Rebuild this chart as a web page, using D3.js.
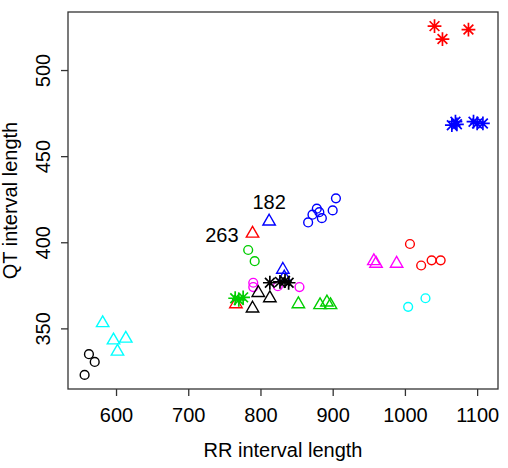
<!DOCTYPE html>
<html>
<head>
<meta charset="utf-8">
<script src="https://cdn.jsdelivr.net/npm/d3@7"></script>
<style>
  body { margin: 0; background: #fff; }
  svg { font-family: "Liberation Sans", Arial, sans-serif; }
</style>
</head>
<body>
<svg id="chart"></svg>
<script>
// RR / QT readings per group
const rrRedStar = [1041, 1052, 1088];
const qtRedStar = [525.5, 518, 523.5];
const rrBlueStar = [1065, 1072, 1070, 1095, 1100, 1108];
const qtBlueStar = [468, 468.5, 470, 470, 469, 469];
const rrBlueCircle = [866, 872, 878, 881.5, 885, 900, 904.5];
const qtBlueCircle = [411.5, 416, 419.5, 417.5, 414, 418.5, 425.5];
const rrBlueTri = [812, 831, 833];
const qtBlueTri = [412.5, 384.5, 380];
const rrRedTri = [789, 766];
const qtRedTri = [405.5, 364.5];
const rrGreenCircle = [783, 792];
const qtGreenCircle = [395.5, 389];
const rrMagentaCircle = [790, 790, 824, 854];
const qtMagentaCircle = [376.5, 374, 374.5, 374];
const rrBlackStar = [813, 827, 834, 839];
const qtBlackStar = [376.5, 377, 377.5, 376.5];
const rrBlackTri = [797, 813, 789];
const qtBlackTri = [371, 368, 362];
const rrGreenTri = [852.5, 882.5, 892, 897];
const qtGreenTri = [364.5, 364, 365.5, 364];
const rrGreenStar = [765, 770, 776];
const qtGreenStar = [367.5, 366.5, 368];
const rrCyanTri = [581.5, 596.5, 613.5, 602];
const qtCyanTri = [353.5, 343.5, 344.5, 337];
const rrBlackCircle = [562.5, 570.5, 556.5];
const qtBlackCircle = [335, 330.5, 323];
const rrMagentaTri = [957, 960, 988.5];
const qtMagentaTri = [389.5, 388, 388];
const rrRedCircle = [1007, 1022.5, 1037, 1049.5];
const qtRedCircle = [399, 386.5, 389.5, 389.5];
const rrCyanCircle = [1004.5, 1028.5];
const qtCyanCircle = [362.5, 367.5];

const xTicks = [600, 700, 800, 900, 1000, 1100];
const yTicks = [350, 400, 450, 500];
const labelText = ["182", "263"];
const labelRR = [812, 789];
const labelQT = [412.5, 405.5];

const series = [
  { rr: rrBlackCircle, qt: qtBlackCircle, color: "#000000", shape: "circle" },
  { rr: rrCyanTri, qt: qtCyanTri, color: "#00FFFF", shape: "triangle" },
  { rr: rrGreenCircle, qt: qtGreenCircle, color: "#00CD00", shape: "circle" },
  { rr: rrRedTri, qt: qtRedTri, color: "#FF0000", shape: "triangle" },
  { rr: rrBlueTri, qt: qtBlueTri, color: "#0000FF", shape: "triangle" },
  { rr: rrMagentaCircle, qt: qtMagentaCircle, color: "#FF00FF", shape: "circle" },
  { rr: rrBlackTri, qt: qtBlackTri, color: "#000000", shape: "triangle" },
  { rr: rrGreenTri, qt: qtGreenTri, color: "#00CD00", shape: "triangle" },
  { rr: rrGreenStar, qt: qtGreenStar, color: "#00CD00", shape: "star" },
  { rr: rrBlackStar, qt: qtBlackStar, color: "#000000", shape: "star" },
  { rr: rrBlueCircle, qt: qtBlueCircle, color: "#0000FF", shape: "circle" },
  { rr: rrMagentaTri, qt: qtMagentaTri, color: "#FF00FF", shape: "triangle" },
  { rr: rrRedCircle, qt: qtRedCircle, color: "#FF0000", shape: "circle" },
  { rr: rrCyanCircle, qt: qtCyanCircle, color: "#00FFFF", shape: "circle" },
  { rr: rrRedStar, qt: qtRedStar, color: "#FF0000", shape: "star" },
  { rr: rrBlueStar, qt: qtBlueStar, color: "#0000FF", shape: "star" }
];

const w = 508;
const h = 468;
const padL = 68, padR = 498, padT = 12, padB = 389;

const svg = d3.select("#chart").attr("width", w).attr("height", h);

const xScale = d3.scaleLinear().domain([533.5, 1128.9]).range([padL, padR]);
const yScale = d3.scaleLinear().domain([314.8, 533.7]).range([padB, padT]);

// R-style star (pch 8): plus and cross together
const starType = {
  draw(ctx, size) {
    const r = Math.sqrt(size) / 2;
    const d = r * Math.SQRT1_2;
    ctx.moveTo(-r, 0); ctx.lineTo(r, 0);
    ctx.moveTo(0, -r); ctx.lineTo(0, r);
    ctx.moveTo(-d, -d); ctx.lineTo(d, d);
    ctx.moveTo(-d, d); ctx.lineTo(d, -d);
  }
};
// open triangle, point up, centred like R pch 2
const triType = {
  draw(ctx, size) {
    const s = Math.sqrt(size);
    const hh = s * Math.sqrt(3) / 2;
    ctx.moveTo(0, -hh * 0.6);
    ctx.lineTo(s / 2, hh * 0.4);
    ctx.lineTo(-s / 2, hh * 0.4);
    ctx.closePath();
  }
};

const symbolFor = {
  circle: d3.symbol().type(d3.symbolCircle).size(Math.PI * 4.4 * 4.4),
  triangle: d3.symbol().type(triType).size(155),
  star: d3.symbol().type(starType).size(190)
};

// points
series.forEach((s) => {
  const pts = s.rr.map((v, i) => ({ rr: v, qt: s.qt[i] }));
  svg.append("g")
    .selectAll("path")
    .data(pts)
    .enter()
    .append("path")
    .attr("transform", (d) => "translate(" + xScale(d.rr) + "," + yScale(d.qt) + ")")
    .attr("d", symbolFor[s.shape]())
    .attr("fill", "none")
    .attr("stroke", s.color)
    .attr("stroke-width", s.shape === "star" ? 1.7 : 1.4);
});

// point labels: first above the point, second to the left
svg.append("text")
  .attr("x", xScale(labelRR[0]))
  .attr("y", yScale(labelQT[0]) - 12)
  .attr("text-anchor", "middle")
  .attr("font-size", 20)
  .text(labelText[0]);
svg.append("text")
  .attr("x", xScale(labelRR[1]) - 14)
  .attr("y", yScale(labelQT[1]) + 9)
  .attr("text-anchor", "end")
  .attr("font-size", 20)
  .text(labelText[1]);

// box
svg.append("rect")
  .attr("x", padL)
  .attr("y", padT)
  .attr("width", padR - padL)
  .attr("height", padB - padT)
  .attr("fill", "none")
  .attr("stroke", "#333")
  .attr("stroke-width", 1.3);

// x axis
const gx = svg.append("g")
  .attr("transform", "translate(0," + padB + ")")
  .call(d3.axisBottom(xScale).tickValues(xTicks).tickSize(7).tickPadding(12).tickFormat(d3.format("d")));
gx.select(".domain").remove();
gx.selectAll("line").attr("stroke", "#333").attr("stroke-width", 1.3);
gx.selectAll("text").attr("font-size", 20).attr("font-family", null).attr("fill", "#000");

// y axis with rotated labels
const gy = svg.append("g")
  .attr("transform", "translate(" + padL + ",0)")
  .call(d3.axisLeft(yScale).tickValues(yTicks).tickSize(7));
gy.select(".domain").remove();
gy.selectAll("line").attr("stroke", "#333").attr("stroke-width", 1.3);
gy.selectAll("text")
  .attr("x", null)
  .attr("dy", "0.35em")
  .attr("transform", "translate(-25.5,0) rotate(-90)")
  .attr("text-anchor", "middle")
  .attr("font-size", 20)
  .attr("font-family", null)
  .attr("fill", "#000");

// axis titles
svg.append("text")
  .attr("x", (padL + padR) / 2)
  .attr("y", 457)
  .attr("text-anchor", "middle")
  .attr("font-size", 20)
  .text("RR interval length");
svg.append("text")
  .attr("transform", "translate(9.5," + (padT + padB) / 2 + ") rotate(-90)")
  .attr("dy", "0.35em")
  .attr("text-anchor", "middle")
  .attr("font-size", 20)
  .text("QT interval length");
</script>
</body>
</html>
